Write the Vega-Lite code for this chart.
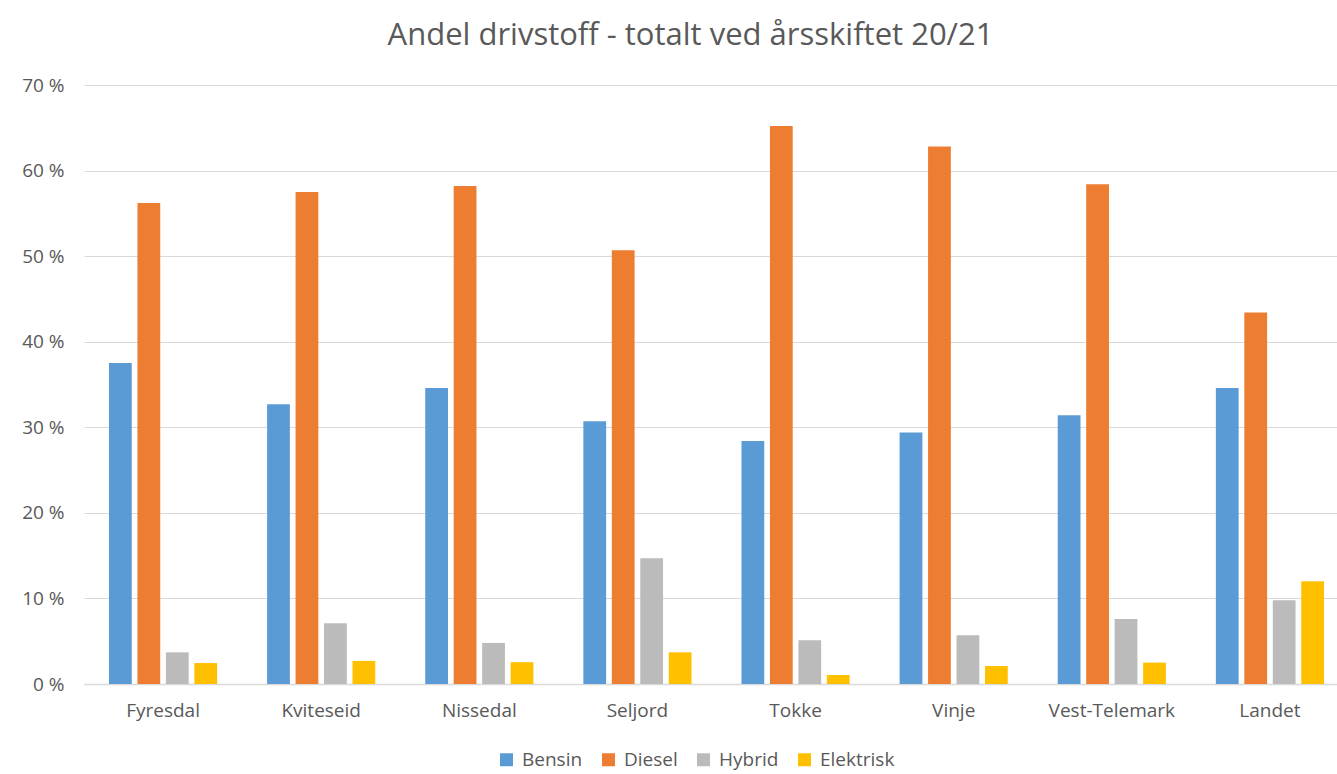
{
  "$schema": "https://vega.github.io/schema/vega-lite/v6.json",
  "autosize": "none",
  "width": 1265,
  "height": 599,
  "padding": {"left": 84, "top": 85, "right": 0, "bottom": 90},
  "background": "white",
  "title": {
    "text": "Andel drivstoff - totalt ved årsskiftet 20/21",
    "font": "Open Sans",
    "fontSize": 31,
    "fontWeight": "normal",
    "color": "#595959",
    "anchor": "middle",
    "dx": -26,
    "offset": 24
  },
  "data": {
    "values": [
      {"kommune": "Fyresdal", "type": "Bensin", "andel": 37.5},
      {"kommune": "Fyresdal", "type": "Diesel", "andel": 56.2},
      {"kommune": "Fyresdal", "type": "Hybrid", "andel": 3.7},
      {"kommune": "Fyresdal", "type": "Elektrisk", "andel": 2.45},
      {"kommune": "Kviteseid", "type": "Bensin", "andel": 32.7},
      {"kommune": "Kviteseid", "type": "Diesel", "andel": 57.5},
      {"kommune": "Kviteseid", "type": "Hybrid", "andel": 7.1},
      {"kommune": "Kviteseid", "type": "Elektrisk", "andel": 2.7},
      {"kommune": "Nissedal", "type": "Bensin", "andel": 34.6},
      {"kommune": "Nissedal", "type": "Diesel", "andel": 58.2},
      {"kommune": "Nissedal", "type": "Hybrid", "andel": 4.8},
      {"kommune": "Nissedal", "type": "Elektrisk", "andel": 2.55},
      {"kommune": "Seljord", "type": "Bensin", "andel": 30.7},
      {"kommune": "Seljord", "type": "Diesel", "andel": 50.7},
      {"kommune": "Seljord", "type": "Hybrid", "andel": 14.7},
      {"kommune": "Seljord", "type": "Elektrisk", "andel": 3.7},
      {"kommune": "Tokke", "type": "Bensin", "andel": 28.4},
      {"kommune": "Tokke", "type": "Diesel", "andel": 65.2},
      {"kommune": "Tokke", "type": "Hybrid", "andel": 5.1},
      {"kommune": "Tokke", "type": "Elektrisk", "andel": 1.05},
      {"kommune": "Vinje", "type": "Bensin", "andel": 29.4},
      {"kommune": "Vinje", "type": "Diesel", "andel": 62.8},
      {"kommune": "Vinje", "type": "Hybrid", "andel": 5.7},
      {"kommune": "Vinje", "type": "Elektrisk", "andel": 2.1},
      {"kommune": "Vest-Telemark", "type": "Bensin", "andel": 31.4},
      {"kommune": "Vest-Telemark", "type": "Diesel", "andel": 58.4},
      {"kommune": "Vest-Telemark", "type": "Hybrid", "andel": 7.6},
      {"kommune": "Vest-Telemark", "type": "Elektrisk", "andel": 2.5},
      {"kommune": "Landet", "type": "Bensin", "andel": 34.6},
      {"kommune": "Landet", "type": "Diesel", "andel": 43.4},
      {"kommune": "Landet", "type": "Hybrid", "andel": 9.8},
      {"kommune": "Landet", "type": "Elektrisk", "andel": 12.0}
    ]
  },
  "mark": {"type": "bar"},
  "encoding": {
    "x": {
      "field": "kommune",
      "type": "nominal",
      "sort": ["Fyresdal", "Kviteseid", "Nissedal", "Seljord", "Tokke", "Vinje", "Vest-Telemark", "Landet"],
      "scale": {"paddingInner": 0.28, "paddingOuter": 0.14},
      "axis": {
        "title": null,
        "labelAngle": 0,
        "labelFont": "Open Sans",
        "labelFontSize": 19,
        "labelColor": "#595959",
        "labelPadding": 17,
        "ticks": false,
        "domainColor": "#D9D9D9",
        "domainWidth": 1.5
      }
    },
    "xOffset": {
      "field": "type",
      "type": "nominal",
      "sort": ["Bensin", "Diesel", "Hybrid", "Elektrisk"],
      "scale": {"paddingInner": 0.2, "paddingOuter": 0.1}
    },
    "y": {
      "field": "andel",
      "type": "quantitative",
      "scale": {"domain": [0, 70], "nice": false},
      "axis": {
        "title": null,
        "values": [0, 10, 20, 30, 40, 50, 60, 70],
        "labelExpr": "datum.value + ' %'",
        "labelFont": "Open Sans",
        "labelFontSize": 19,
        "labelColor": "#595959",
        "labelPadding": 20,
        "ticks": false,
        "domain": false,
        "gridColor": "#D9D9D9",
        "gridWidth": 1
      }
    },
    "color": {
      "field": "type",
      "type": "nominal",
      "sort": ["Bensin", "Diesel", "Hybrid", "Elektrisk"],
      "scale": {
        "domain": ["Bensin", "Diesel", "Hybrid", "Elektrisk"],
        "range": ["#5B9BD5", "#ED7D31", "#BBBBBB", "#FFC000"]
      },
      "legend": {
        "title": null,
        "orient": "none",
        "direction": "horizontal",
        "legendX": 413,
        "legendY": 665,
        "symbolType": "square",
        "symbolSize": 169,
        "symbolStrokeWidth": 0,
        "labelFont": "Open Sans",
        "labelFontSize": 19,
        "labelColor": "#595959",
        "labelOffset": 6,
        "columnPadding": 16
      }
    }
  },
  "config": {
    "view": {"stroke": null}
  }
}
